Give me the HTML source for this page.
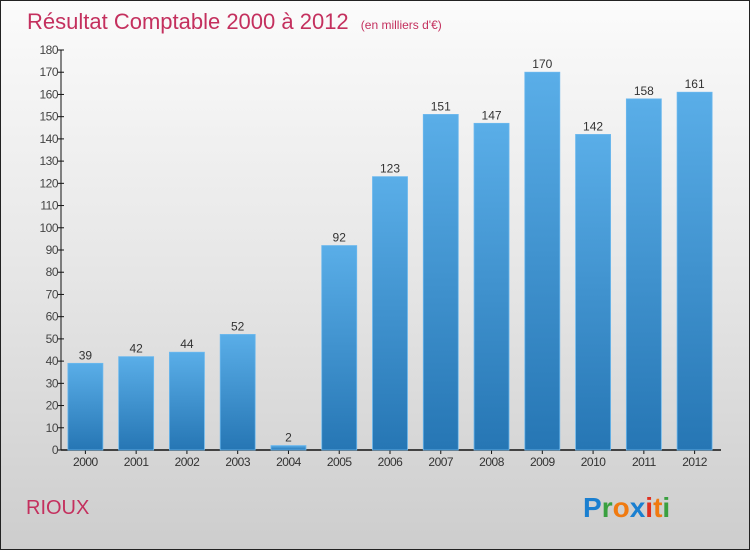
<!DOCTYPE html>
<html><head><meta charset="utf-8"><style>
html,body{margin:0;padding:0}
body{width:750px;height:550px;overflow:hidden;font-family:"Liberation Sans",sans-serif}
#wrap{position:relative;width:748px;height:548px;border:1px solid #222;background:linear-gradient(#fbfbfb,#e6e6e6 50%,#cdcdcd)}
</style></head><body>
<div id="wrap">
<svg id="chart" width="748" height="548" viewBox="1 1 748 548" xmlns="http://www.w3.org/2000/svg">
<defs><linearGradient id="bg" x1="0" y1="0" x2="0" y2="1"><stop offset="0" stop-color="#5aaee8"/><stop offset="1" stop-color="#2676b4"/></linearGradient></defs>
<text x="27" y="29" font-size="22" fill="#c4305e">Résultat Comptable 2000 à 2012 <tspan font-size="12" dx="6">(en milliers d'€)</tspan></text>
<text x="26" y="514" font-size="20" fill="#c4305e">RIOUX</text>
<g font-size="28" font-weight="bold" font-family="Liberation Sans, sans-serif">
<text x="583" y="517"><tspan fill="#1a7fd0">P</tspan><tspan fill="#3aa040">r</tspan><tspan fill="#f07a10">o</tspan><tspan fill="#1a7fd0">x</tspan><tspan fill="#e03020">i</tspan><tspan fill="#f07a10">t</tspan><tspan fill="#3aa040">i</tspan></text>
</g>
<g id="axes"></g><g id="bars"></g>
</svg>
</div>
<script>
const categories=["2000","2001","2002","2003","2004","2005","2006","2007","2008","2009","2010","2011","2012"];
const values=[39,42,44,52,2,92,123,151,147,170,142,158,161];
const yTicks=[0,10,20,30,40,50,60,70,80,90,100,110,120,130,140,150,160,170,180];
const NS="http://www.w3.org/2000/svg";
const x0=61,x1=721,yBase=450,yTop=50,yMax=180;
const y=v=>yBase-(v/yMax)*(yBase-yTop);
const slot=(x1-x0)/categories.length;
const xc=i=>x0+slot*(i+0.5)-1;
function mk(tag,attrs,parent){const e=document.createElementNS(NS,tag);for(const k in attrs)e.setAttribute(k,attrs[k]);parent.appendChild(e);return e;}
const ax=document.getElementById('axes'),bars=document.getElementById('bars');
let l=mk('line',{x1:x0,y1:yTop,x2:x0,y2:yBase,stroke:'#111','stroke-width':1},ax);


l=mk('line',{x1:x0,y1:yBase,x2:x1,y2:yBase,stroke:'#111','stroke-width':1.5},ax);


yTicks.forEach(t=>{
 const tk=mk('line',{x1:x0-3,x2:x0+3,y1:y(t),y2:y(t),stroke:'#111'},ax);
 
 
 const tx=mk('text',{x:x0-3,y:y(t)+4,'text-anchor':'end','font-size':12,fill:'#444','letter-spacing':'-0.5'},ax);
 tx.textContent=t;
 
 
});
categories.forEach((c,i)=>{
 const bw=35,v=values[i];
 const r=mk('rect',{x:xc(i)-bw/2,y:y(v),width:bw,height:yBase-y(v),fill:'url(#bg)',stroke:'#6bb8ee','stroke-width':0.8},bars);
 
 
 const vl=mk('text',{x:xc(i),y:y(v)-4,'text-anchor':'middle','font-size':12,fill:'#333'},bars);
 vl.textContent=v;
 
 
 const tk=mk('line',{x1:xc(i),x2:xc(i),y1:yBase,y2:yBase+4,stroke:'#111'},ax);
 
 
 const xl=mk('text',{x:xc(i),y:466,'text-anchor':'middle','font-size':12,fill:'#333','letter-spacing':'-0.5'},ax);
 xl.textContent=c;
 
 
});
</script>
</body></html>
